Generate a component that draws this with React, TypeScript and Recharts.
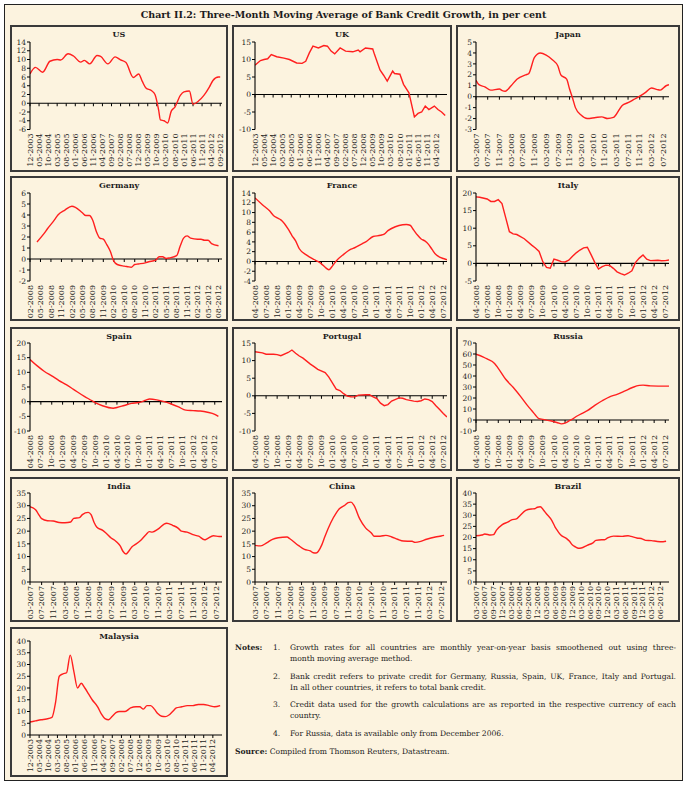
import React from "react";
import { LineChart, Line, XAxis, YAxis, ReferenceLine } from "recharts";

const FONT = "'DejaVu Serif', serif";
const BG = "#fcf3df";
const RED = "#ff1f1f";
const INK = "#1c1c1c";

// x tick labels (month-year)
const T_US = ["12-2003", "05-2004", "10-2004", "03-2005", "08-2005", "01-2006", "06-2006", "11-2006", "04-2007", "09-2007", "02-2008", "07-2008", "12-2008", "05-2009", "10-2009", "03-2010", "08-2010", "01-2011", "06-2011", "11-2011", "04-2012", "09-2012"];
const T_UK = ["12-2003", "05-2004", "10-2004", "03-2005", "08-2005", "01-2006", "06-2006", "11-2006", "04-2007", "09-2007", "02-2008", "07-2008", "12-2008", "05-2009", "10-2009", "03-2010", "08-2010", "01-2011", "06-2011", "11-2011", "04-2012"];
const T_4M = ["03-2007", "07-2007", "11-2007", "03-2008", "07-2008", "11-2008", "03-2009", "07-2009", "11-2009", "03-2010", "07-2010", "11-2010", "03-2011", "07-2011", "11-2011", "03-2012", "07-2012"];
const T_DE = ["02-2008", "05-2008", "08-2008", "11-2008", "02-2009", "05-2009", "08-2009", "11-2009", "02-2010", "05-2010", "08-2010", "11-2010", "02-2011", "05-2011", "08-2011", "11-2011", "02-2012", "05-2012", "08-2012"];
const T_APR = ["04-2008", "07-2008", "10-2008", "01-2009", "04-2009", "07-2009", "10-2009", "01-2010", "04-2010", "07-2010", "10-2010", "01-2011", "04-2011", "07-2011", "10-2011", "01-2012", "04-2012", "07-2012"];
const T_BR = ["03-2007", "06-2007", "09-2007", "12-2007", "03-2008", "06-2008", "09-2008", "12-2008", "03-2009", "06-2009", "09-2009", "12-2009", "03-2010", "06-2010", "09-2010", "12-2010", "03-2011", "06-2011", "09-2011", "12-2011", "03-2012", "06-2012"];

// y tick labels
const Y_US = [-6, -4, -2, 0, 2, 4, 6, 8, 10, 12, 14];
const Y_UK = [-10, -5, 0, 5, 10, 15];
const Y_JP = [-3, -2, -1, 0, 1, 2, 3, 4, 5];
const Y_DE = [-2, -1, 0, 1, 2, 3, 4, 5, 6];
const Y_FR = [-4, -2, 0, 2, 4, 6, 8, 10, 12, 14];
const Y_IT = [-5, 0, 5, 10, 15, 20];
const Y_ES = [-10, -5, 0, 5, 10, 15, 20];
const Y_PT = [-10, -5, 0, 5, 10, 15];
const Y_RU = [-10, 0, 10, 20, 30, 40, 50, 60, 70];
const Y_35 = [0, 5, 10, 15, 20, 25, 30, 35];
const Y_40 = [0, 5, 10, 15, 20, 25, 30, 35, 40];

// series: [month, per cent]
const US: [string, number][] = [
  ["12-2003", 6.7], ["03-2004", 8.2], ["07-2004", 7.1], ["11-2004", 9.6], ["03-2005", 10.0], ["05-2005", 9.9],
  ["09-2005", 11.3], ["12-2005", 10.8], ["04-2006", 9.4], ["06-2006", 9.8], ["09-2006", 9.0], ["01-2007", 10.9],
  ["03-2007", 10.7], ["07-2007", 9.0], ["11-2007", 10.6], ["02-2008", 9.9], ["05-2008", 9.3], ["09-2008", 5.9],
  ["12-2008", 6.7], ["02-2009", 5.0], ["04-2009", 3.5], ["07-2009", 2.9], ["09-2009", 2.0], ["11-2009", -1.5],
  ["12-2009", -3.8], ["02-2010", -4.0], ["04-2010", -4.5], ["06-2010", -1.8], ["08-2010", -0.9], ["11-2010", 1.8],
  ["01-2011", 2.6], ["04-2011", 2.8], ["06-2011", -0.2], ["09-2011", 0.5], ["12-2011", 1.8], ["03-2012", 3.7],
  ["05-2012", 5.2], ["08-2012", 6.0], ["09-2012", 6.0],
];
const UK: [string, number][] = [
  ["12-2003", 8.4], ["03-2004", 9.7], ["05-2004", 10.0], ["07-2004", 10.2], ["09-2004", 11.4], ["12-2004", 10.8],
  ["04-2005", 10.4], ["07-2005", 10.0], ["11-2005", 9.0], ["02-2006", 8.9], ["04-2006", 9.5], ["06-2006", 11.9],
  ["08-2006", 13.8], ["11-2006", 13.3], ["02-2007", 14.0], ["04-2007", 13.8], ["06-2007", 12.4], ["08-2007", 11.6],
  ["11-2007", 13.3], ["02-2008", 12.4], ["06-2008", 12.2], ["09-2008", 12.7], ["10-2008", 12.2], ["01-2009", 13.3],
  ["05-2009", 13.0], ["06-2009", 11.4], ["09-2009", 7.0], ["11-2009", 5.5], ["01-2010", 3.8], ["04-2010", 6.7],
  ["05-2010", 6.0], ["08-2010", 5.8], ["10-2010", 2.9], ["01-2011", 0.5], ["04-2011", -6.4], ["06-2011", -5.4],
  ["08-2011", -5.0], ["10-2011", -3.3], ["12-2011", -4.3], ["03-2012", -3.3], ["05-2012", -4.3], ["07-2012", -5.0],
  ["09-2012", -6.0],
];
const JAPAN: [string, number][] = [
  ["03-2007", 1.5], ["04-2007", 1.1], ["06-2007", 0.9], ["08-2007", 0.6], ["11-2007", 0.7], ["12-2007", 0.55],
  ["01-2008", 0.5], ["03-2008", 1.0], ["05-2008", 1.6], ["08-2008", 2.0], ["09-2008", 2.1], ["11-2008", 3.6],
  ["01-2009", 4.0], ["03-2009", 3.8], ["05-2009", 3.4], ["07-2009", 2.8], ["08-2009", 2.0], ["10-2009", 1.6],
  ["11-2009", 0.7], ["12-2009", -0.1], ["01-2010", -1.0], ["03-2010", -1.7], ["05-2010", -2.0], ["08-2010", -1.9],
  ["10-2010", -1.85], ["12-2010", -2.0], ["02-2011", -1.9], ["03-2011", -1.6], ["05-2011", -0.8], ["07-2011", -0.55],
  ["09-2011", -0.25], ["11-2011", 0.05], ["01-2012", 0.4], ["03-2012", 0.8], ["05-2012", 0.65], ["06-2012", 0.6],
  ["08-2012", 1.0], ["09-2012", 1.1],
];
const GERMANY: [string, number][] = [
  ["04-2008", 1.55], ["06-2008", 2.3], ["07-2008", 2.75], ["09-2008", 3.55], ["10-2008", 4.0], ["12-2008", 4.45],
  ["02-2009", 4.8], ["03-2009", 4.7], ["05-2009", 4.2], ["06-2009", 3.95], ["07-2009", 3.95], ["08-2009", 3.5],
  ["09-2009", 2.5], ["10-2009", 1.9], ["11-2009", 1.8], ["12-2009", 1.3], ["01-2010", 0.7], ["02-2010", -0.2],
  ["03-2010", -0.5], ["05-2010", -0.65], ["06-2010", -0.7], ["07-2010", -0.75], ["08-2010", -0.5], ["09-2010", -0.45],
  ["11-2010", -0.35], ["12-2010", -0.25], ["02-2011", -0.1], ["03-2011", 0.2], ["04-2011", 0.2], ["05-2011", 0.05],
  ["06-2011", 0.1], ["08-2011", 0.3], ["09-2011", 1.15], ["10-2011", 1.9], ["11-2011", 2.1], ["12-2011", 1.9],
  ["02-2012", 1.8], ["03-2012", 1.8], ["04-2012", 1.7], ["05-2012", 1.7], ["06-2012", 1.4], ["08-2012", 1.2],
];
const FRANCE: [string, number][] = [
  ["04-2008", 13.0], ["06-2008", 11.6], ["08-2008", 10.3], ["09-2008", 9.4], ["10-2008", 8.9], ["11-2008", 8.5],
  ["01-2009", 6.6], ["02-2009", 5.3], ["03-2009", 4.2], ["04-2009", 2.6], ["06-2009", 1.3], ["08-2009", 0.4],
  ["09-2009", 0.0], ["10-2009", -0.5], ["11-2009", -1.2], ["12-2009", -1.7], ["01-2010", -0.9], ["02-2010", 0.1],
  ["04-2010", 1.45], ["06-2010", 2.5], ["07-2010", 2.8], ["09-2010", 3.6], ["10-2010", 4.0], ["12-2010", 5.1],
  ["02-2011", 5.35], ["03-2011", 5.6], ["04-2011", 6.3], ["06-2011", 7.1], ["08-2011", 7.5], ["09-2011", 7.55],
  ["10-2011", 7.4], ["11-2011", 6.4], ["12-2011", 5.4], ["01-2012", 4.6], ["02-2012", 4.2], ["03-2012", 3.5],
  ["04-2012", 2.4], ["05-2012", 1.4], ["06-2012", 0.9], ["07-2012", 0.6], ["08-2012", 0.35],
];
const ITALY: [string, number][] = [
  ["04-2008", 18.9], ["05-2008", 18.8], ["07-2008", 18.3], ["08-2008", 17.6], ["09-2008", 17.6], ["10-2008", 18.1],
  ["11-2008", 17.0], ["12-2008", 13.0], ["01-2009", 9.0], ["02-2009", 8.4], ["03-2009", 8.2], ["05-2009", 7.0],
  ["07-2009", 5.2], ["08-2009", 4.4], ["09-2009", 3.4], ["10-2009", 0.5], ["11-2009", -1.15], ["12-2009", -1.35],
  ["01-2010", 1.2], ["02-2010", 0.9], ["03-2010", 0.5], ["04-2010", 0.4], ["05-2010", 0.9], ["06-2010", 2.0],
  ["07-2010", 3.0], ["08-2010", 3.8], ["09-2010", 4.4], ["10-2010", 4.6], ["11-2010", 2.5], ["12-2010", 0.3],
  ["01-2011", -1.6], ["02-2011", -0.9], ["03-2011", -0.5], ["04-2011", -0.6], ["05-2011", -1.4], ["06-2011", -2.4],
  ["07-2011", -2.9], ["08-2011", -3.3], ["09-2011", -2.8], ["10-2011", -2.1], ["11-2011", 0.3], ["12-2011", 1.5],
  ["01-2012", 2.4], ["02-2012", 1.2], ["03-2012", 0.8], ["05-2012", 0.9], ["06-2012", 0.75], ["07-2012", 0.8],
  ["08-2012", 0.95],
];
const SPAIN: [string, number][] = [
  ["04-2008", 14.4], ["06-2008", 12.2], ["08-2008", 10.3], ["10-2008", 8.8], ["12-2008", 7.2], ["02-2009", 5.8],
  ["04-2009", 4.2], ["07-2009", 1.8], ["09-2009", 0.4], ["10-2009", -0.35], ["12-2009", -1.4], ["03-2010", -2.25],
  ["04-2010", -2.0], ["06-2010", -1.3], ["08-2010", -0.6], ["10-2010", -0.3], ["12-2010", 0.5], ["01-2011", 0.9],
  ["03-2011", 0.6], ["05-2011", 0.0], ["07-2011", -0.8], ["09-2011", -1.8], ["11-2011", -2.9], ["01-2012", -3.05],
  ["03-2012", -3.2], ["05-2012", -3.6], ["07-2012", -4.3], ["08-2012", -5.0],
];
const PORTUGAL: [string, number][] = [
  ["04-2008", 12.5], ["06-2008", 12.2], ["07-2008", 11.8], ["09-2008", 11.8], ["10-2008", 11.7], ["11-2008", 11.4],
  ["01-2009", 12.3], ["02-2009", 13.0], ["03-2009", 12.1], ["04-2009", 11.3], ["05-2009", 10.7], ["07-2009", 9.0],
  ["08-2009", 8.3], ["09-2009", 7.5], ["11-2009", 6.6], ["12-2009", 5.3], ["01-2010", 3.6], ["02-2010", 1.9],
  ["03-2010", 1.5], ["04-2010", 0.6], ["05-2010", -0.1], ["06-2010", -0.25], ["07-2010", -0.3], ["08-2010", 0.2],
  ["10-2010", 0.3], ["11-2010", 0.3], ["12-2010", -0.3], ["01-2011", -0.8], ["02-2011", -2.1], ["03-2011", -2.8],
  ["04-2011", -2.5], ["05-2011", -1.5], ["07-2011", -0.6], ["08-2011", -0.7], ["09-2011", -1.1], ["11-2011", -1.5],
  ["12-2011", -1.6], ["01-2012", -1.4], ["02-2012", -0.9], ["03-2012", -1.1], ["04-2012", -1.65], ["05-2012", -2.8],
  ["06-2012", -3.9], ["07-2012", -5.0], ["08-2012", -6.0],
];
const RUSSIA: [string, number][] = [
  ["04-2008", 59.8], ["06-2008", 57.2], ["07-2008", 55.5], ["09-2008", 51.4], ["10-2008", 47.0], ["12-2008", 37.0],
  ["02-2009", 29.8], ["04-2009", 21.5], ["06-2009", 12.6], ["07-2009", 8.7], ["08-2009", 4.5], ["09-2009", 1.2],
  ["10-2009", 0.6], ["12-2009", -0.7], ["02-2010", -2.5], ["03-2010", -3.5], ["04-2010", -2.8], ["05-2010", -1.0],
  ["06-2010", 0.8], ["07-2010", 3.2], ["09-2010", 6.8], ["10-2010", 8.5], ["12-2010", 13.3], ["02-2011", 17.5],
  ["04-2011", 21.1], ["06-2011", 23.3], ["08-2011", 26.2], ["10-2011", 29.3], ["12-2011", 31.5], ["01-2012", 31.7],
  ["03-2012", 31.0], ["08-2012", 30.8],
];
const INDIA: [string, number][] = [
  ["03-2007", 29.6], ["05-2007", 28.3], ["06-2007", 26.5], ["07-2007", 24.9], ["09-2007", 24.1], ["11-2007", 24.0],
  ["01-2008", 23.4], ["03-2008", 23.3], ["05-2008", 23.6], ["06-2008", 25.0], ["08-2008", 25.3], ["09-2008", 26.5],
  ["11-2008", 27.4], ["12-2008", 26.5], ["01-2009", 23.5], ["02-2009", 21.5], ["04-2009", 20.3], ["05-2009", 19.4],
  ["07-2009", 17.2], ["08-2009", 16.5], ["09-2009", 15.5], ["10-2009", 14.2], ["11-2009", 12.0], ["12-2009", 11.0],
  ["01-2010", 12.2], ["02-2010", 13.8], ["03-2010", 14.6], ["05-2010", 16.3], ["07-2010", 18.8], ["08-2010", 19.8],
  ["09-2010", 19.6], ["11-2010", 20.8], ["01-2011", 22.7], ["02-2011", 23.1], ["04-2011", 22.3], ["06-2011", 21.1],
  ["07-2011", 20.0], ["09-2011", 19.6], ["11-2011", 18.6], ["01-2012", 18.0], ["03-2012", 16.6], ["04-2012", 17.1],
  ["06-2012", 18.2], ["08-2012", 17.9], ["09-2012", 17.9],
];
const CHINA: [string, number][] = [
  ["03-2007", 14.4], ["05-2007", 14.2], ["07-2007", 15.4], ["09-2007", 16.8], ["11-2007", 17.4], ["02-2008", 17.7],
  ["03-2008", 17.0], ["06-2008", 14.3], ["08-2008", 12.8], ["10-2008", 12.2], ["11-2008", 11.5], ["12-2008", 11.4],
  ["02-2009", 14.7], ["03-2009", 17.8], ["05-2009", 23.2], ["07-2009", 27.3], ["08-2009", 28.8], ["10-2009", 30.3],
  ["11-2009", 31.2], ["12-2009", 31.4], ["01-2010", 30.2], ["03-2010", 24.8], ["05-2010", 21.3], ["07-2010", 19.3],
  ["08-2010", 18.0], ["10-2010", 18.0], ["12-2010", 18.35], ["02-2011", 17.7], ["04-2011", 16.8], ["06-2011", 16.1],
  ["09-2011", 16.0], ["10-2011", 15.6], ["12-2011", 16.0], ["02-2012", 16.8], ["05-2012", 17.7], ["07-2012", 18.1],
  ["08-2012", 18.35],
];
const BRAZIL: [string, number][] = [
  ["03-2007", 20.8], ["05-2007", 21.1], ["06-2007", 21.6], ["08-2007", 21.1], ["09-2007", 21.3], ["10-2007", 23.3],
  ["12-2007", 25.8], ["02-2008", 27.0], ["03-2008", 27.8], ["05-2008", 28.5], ["06-2008", 29.8], ["08-2008", 32.2],
  ["10-2008", 32.8], ["11-2008", 32.9], ["12-2008", 33.6], ["01-2009", 33.8], ["02-2009", 32.5], ["03-2009", 30.8],
  ["05-2009", 27.5], ["06-2009", 24.8], ["07-2009", 22.8], ["08-2009", 21.1], ["10-2009", 19.5], ["11-2009", 18.3],
  ["12-2009", 16.6], ["01-2010", 15.8], ["02-2010", 15.2], ["03-2010", 15.3], ["05-2010", 16.5], ["07-2010", 17.6],
  ["08-2010", 18.7], ["10-2010", 19.0], ["11-2010", 19.0], ["12-2010", 19.8], ["02-2011", 20.6], ["05-2011", 20.5],
  ["07-2011", 20.8], ["08-2011", 20.5], ["10-2011", 19.8], ["12-2011", 19.3], ["01-2012", 18.7], ["03-2012", 18.6],
  ["05-2012", 18.2], ["07-2012", 18.1], ["08-2012", 18.3],
];
const MALAYSIA: [string, number][] = [
  ["12-2003", 5.5], ["03-2004", 6.0], ["06-2004", 6.5], ["09-2004", 6.8], ["12-2004", 7.5], ["02-2005", 14.0],
  ["04-2005", 25.0], ["06-2005", 26.0], ["08-2005", 26.5], ["10-2005", 34.0], ["12-2005", 27.0], ["02-2006", 20.0],
  ["04-2006", 22.0], ["06-2006", 20.0], ["08-2006", 17.5], ["10-2006", 15.0], ["01-2007", 12.0], ["03-2007", 9.0],
  ["05-2007", 7.0], ["07-2007", 6.5], ["09-2007", 8.0], ["11-2007", 9.5], ["01-2008", 10.0], ["04-2008", 10.0],
  ["07-2008", 11.5], ["10-2008", 12.0], ["12-2008", 12.0], ["02-2009", 11.0], ["04-2009", 12.5], ["06-2009", 12.5],
  ["08-2009", 11.0], ["10-2009", 9.0], ["12-2009", 8.0], ["02-2010", 7.8], ["04-2010", 8.5], ["06-2010", 10.0],
  ["08-2010", 11.5], ["11-2010", 12.0], ["02-2011", 12.5], ["05-2011", 12.5], ["08-2011", 13.0], ["11-2011", 13.0],
  ["02-2012", 12.5], ["05-2012", 12.0], ["08-2012", 12.5],
];

const mi = (s: string) => {
  const [m, y] = s.split("-").map(Number);
  return y * 12 + m - 1;
};
const fmt = (v: number) => `${String((v % 12) + 1).padStart(2, "0")}-${Math.floor(v / 12)}`;

const COLS = [
  { x: 10, w: 218, axis: 30, right: 222 },
  { x: 232, w: 220, axis: 255, right: 447 },
  { x: 456, w: 224, axis: 476, right: 669 },
];
const ROWS = [
  { y: 25, h: 147, top: 42, bottom: 129.5 },
  { y: 176, h: 145, top: 193, bottom: 281 },
  { y: 327, h: 144, top: 343, bottom: 431 },
  { y: 477, h: 145, top: 493, bottom: 582 },
  { y: 627, h: 150, top: 641, bottom: 735 },
];

type Cfg = {
  title: string; data: [string, number][]; xt: string[]; end: string; yt: number[];
  col: number; row: number; curve?: "monotone" | "linear";
};

const PANELS: Cfg[] = [
  { title: "US", data: US, xt: T_US, end: "10-2012", yt: Y_US, col: 0, row: 0 },
  { title: "UK", data: UK, xt: T_UK, end: "10-2012", yt: Y_UK, col: 1, row: 0, curve: "linear" },
  { title: "Japan", data: JAPAN, xt: T_4M, end: "09-2012", yt: Y_JP, col: 2, row: 0 },
  { title: "Germany", data: GERMANY, xt: T_DE, end: "09-2012", yt: Y_DE, col: 0, row: 1 },
  { title: "France", data: FRANCE, xt: T_APR, end: "08-2012", yt: Y_FR, col: 1, row: 1 },
  { title: "Italy", data: ITALY, xt: T_APR, end: "08-2012", yt: Y_IT, col: 2, row: 1, curve: "linear" },
  { title: "Spain", data: SPAIN, xt: T_APR, end: "09-2012", yt: Y_ES, col: 0, row: 2 },
  { title: "Portugal", data: PORTUGAL, xt: T_APR, end: "08-2012", yt: Y_PT, col: 1, row: 2, curve: "linear" },
  { title: "Russia", data: RUSSIA, xt: T_APR, end: "08-2012", yt: Y_RU, col: 2, row: 2 },
  { title: "India", data: INDIA, xt: T_4M, end: "09-2012", yt: Y_35, col: 0, row: 3 },
  { title: "China", data: CHINA, xt: T_4M, end: "09-2012", yt: Y_35, col: 1, row: 3 },
  { title: "Brazil", data: BRAZIL, xt: T_BR, end: "09-2012", yt: Y_40, col: 2, row: 3 },
  { title: "Malaysia", data: MALAYSIA, xt: T_UK, end: "09-2012", yt: Y_40, col: 0, row: 4 },
];

const XTick = (props: any) => {
  const { x, y, payload } = props;
  return (
    <text x={x} y={y} transform={`rotate(-90, ${x}, ${y})`} textAnchor="end" dy="0.33em"
      fontSize={8} fontFamily={FONT} fill={INK}>
      {fmt(payload.value)}
    </text>
  );
};

function Panel({ cfg }: { cfg: Cfg }) {
  const c = COLS[cfg.col];
  const r = ROWS[cfg.row];
  const w = c.w - 4;
  const h = r.h - 4;
  const ticks = cfg.xt.map(mi);
  const d0 = ticks[0];
  const d1 = mi(cfg.end);
  const data = cfg.data.map(([m, v]) => ({ x: mi(m), v }));
  const yMin = cfg.yt[0];
  const yMax = cfg.yt[cfg.yt.length - 1];

  const zeroLine = (p: any) => (
    <g>
      <line x1={p.x1} y1={p.y1} x2={p.x2} y2={p.y2} stroke="#000" strokeWidth={1.1} />
      {ticks.map((t) => {
        const px = p.x1 + ((t - d0) / (d1 - d0)) * (p.x2 - p.x1);
        return <line key={t} x1={px} x2={px} y1={p.y1} y2={p.y1 + 3} stroke="#000" strokeWidth={1} />;
      })}
    </g>
  );

  return (
    <div style={{
      position: "absolute", left: c.x, top: r.y, width: c.w, height: r.h, boxSizing: "border-box",
      border: "2px solid #3a3a3a", background: BG,
    }}>
      <div style={{
        position: "absolute", left: 0, top: 2, width: w, textAlign: "center", fontFamily: FONT,
        fontWeight: "bold", fontSize: 8, lineHeight: "10px", color: INK,
      }}>{cfg.title}</div>
      <LineChart width={w} height={h} data={data}
        margin={{ top: r.top - r.y - 2, right: c.x + c.w - 2 - c.right, bottom: 0, left: 0 }}>
        <XAxis type="number" dataKey="x" domain={[d0, d1]} ticks={ticks} interval={0} allowDataOverflow
          axisLine={false} tickLine={false} tickSize={0} tickMargin={4}
          height={r.y + r.h - 2 - r.bottom} tick={<XTick />} />
        <YAxis type="number" domain={[yMin, yMax]} ticks={cfg.yt} interval={0} allowDataOverflow
          width={c.axis - c.x - 2} tickSize={3} tickMargin={1}
          axisLine={{ stroke: "#000", strokeWidth: 1.1 }} tickLine={{ stroke: "#000" }}
          tick={{ fontSize: 7.5, fontFamily: FONT, fill: INK }} />
        <ReferenceLine y={0} shape={zeroLine} />
        <Line type={cfg.curve ?? "monotone"} dataKey="v" stroke={RED} strokeWidth={1.4} dot={false}
          isAnimationActive={false} />
      </LineChart>
    </div>
  );
}

const NOTE = { fontFamily: FONT, fontSize: 7.6, color: INK, lineHeight: "10px" } as const;

const NOTE_LINES: { y: number; num?: string; text: string; full?: boolean }[] = [
  { y: 648, num: "1.", text: "Growth rates for all countries are monthly year-on-year basis smoothened out using three-", full: true },
  { y: 659, text: "month moving average method." },
  { y: 677, num: "2.", text: "Bank credit refers to private credit for Germany, Russia, Spain, UK, France, Italy and Portugal.", full: true },
  { y: 688, text: "In all other countries, it refers to total bank credit." },
  { y: 705, num: "3.", text: "Credit data used for the growth calculations are as reported in the respective currency of each", full: true },
  { y: 716, text: "country." },
  { y: 734, num: "4.", text: "For Russia, data is available only from December 2006." },
];

export default function App() {
  return (
    <div style={{ position: "absolute", left: 0, top: 0, width: 687, height: 785, background: "#fff", overflow: "hidden" }}>
      <style>{".recharts-surface{overflow:visible}"}</style>
      <div style={{
        position: "absolute", left: 4, top: 4, width: 679, height: 777, boxSizing: "border-box",
        border: "1.5px solid #222", background: BG,
      }} />
      <div style={{
        position: "absolute", left: 0, top: 9, width: 687, textAlign: "center", fontFamily: FONT,
        fontWeight: "bold", fontSize: 9.5, lineHeight: "12px", color: INK,
      }}>
        Chart II.2: Three-Month Moving Average of Bank Credit Growth, in per cent
      </div>
      {PANELS.map((p) => <Panel key={p.title} cfg={p} />)}
      <div style={{ ...NOTE, position: "absolute", left: 235, top: 643, fontWeight: "bold" }}>Notes:</div>
      {NOTE_LINES.map((l, i) => (
        <React.Fragment key={i}>
          {l.num && <div style={{ ...NOTE, position: "absolute", left: 273, top: l.y - 5 }}>{l.num}</div>}
          <div style={{
            ...NOTE, position: "absolute", left: 290, top: l.y - 5, width: 386, whiteSpace: "nowrap",
            textAlign: l.full ? "justify" : "left", textAlignLast: l.full ? "justify" : "left",
          }}>{l.text}</div>
        </React.Fragment>
      ))}
      <div style={{ ...NOTE, position: "absolute", left: 235, top: 747 }}>
        <b>Source:</b> Compiled from Thomson Reuters, Datastream.
      </div>
    </div>
  );
}
